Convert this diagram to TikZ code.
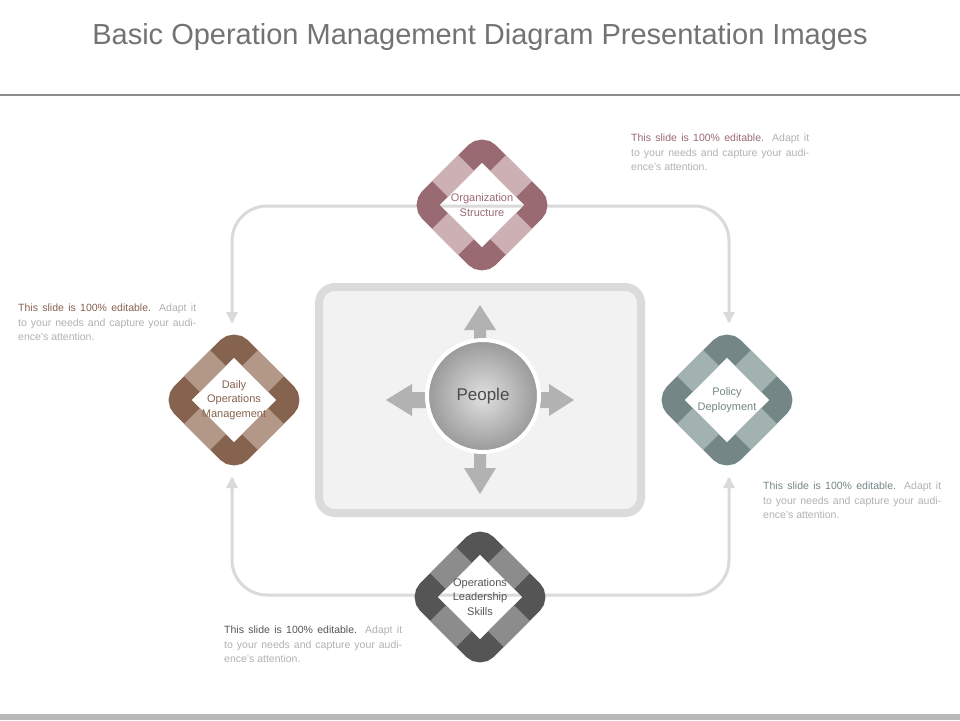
\documentclass[tikz,border=0pt]{standalone}
\usepackage{fontspec}
\setmainfont{Liberation Sans}
\usetikzlibrary{arrows.meta,calc}
\definecolor{tdark}{HTML}{9A6A72}\definecolor{tlight}{HTML}{CDB0B4}
\definecolor{ldark}{HTML}{86634F}\definecolor{llight}{HTML}{B39888}
\definecolor{rdark}{HTML}{748686}\definecolor{rlight}{HTML}{A2B2B1}
\definecolor{bdark}{HTML}{555555}\definecolor{blight}{HTML}{8C8C8C}
\definecolor{conn}{HTML}{DADADA}
\newcommand{\mydia}[6]{%
 \draw[#3,line width=22pt,rounded corners=9pt] (#1,#2-58)--(#1+58,#2)--(#1,#2+58)--(#1-58,#2)--cycle;
 \foreach \sx/\sy in {1/1,1/-1,-1/1,-1/-1}{
  \draw[#4,line width=22pt] (#1+\sx*16,#2+\sy*42)--(#1+\sx*42,#2+\sy*16);}
 \node[dtext,text=#3] (#6) at (#1,#2) {#5};}
\begin{document}
\begin{tikzpicture}[x=1pt,y=-1pt,
 dtext/.style={align=center,font=\fontsize{11}{14.5}\selectfont},
 para/.style={anchor=north west,text width=178pt,align=justify,inner sep=0pt,font=\fontsize{10.5}{14.5}\selectfont,text=gray!60},
 conline/.style={conn,line width=3pt,rounded corners=35pt},
 tip/.style={-{Triangle[width=10pt,length=9pt]}},
 barr/.style={fill=black!30,draw=none}]
\useasboundingbox (0,0) rectangle (960,720);
\fill[white] (0,0) rectangle (960,720);
\node[text=black!55,font=\fontsize{29}{32}\selectfont] (title) at (480,37) {Basic Operation Management Diagram Presentation Images};
\draw[black!45,line width=2.5pt] (0,95)--(960,95);
\fill[black!28] (0,714) rectangle (960,720);
% connectors
\coordinate (tl) at (232,322);\coordinate (tr) at (729,322);
\coordinate (bl) at (232,478);\coordinate (br) at (729,478);
\draw[conline] (482,206)--(232,206)--(tl);
\draw[conline] (482,206)--(729,206)--(tr);
\draw[conline] (480,595)--(232,595)--(bl);
\draw[conline] (480,595)--(729,595)--(br);
\fill[conn] (tl)++(-6,-10)--++(12,0)--(232,323)--cycle;
\fill[conn] (tr)++(-6,-10)--++(12,0)--(729,323)--cycle;
\fill[conn] (bl)++(-6,10)--++(12,0)--(232,477)--cycle;
\fill[conn] (br)++(-6,10)--++(12,0)--(729,477)--cycle;
% center box
\draw[draw=black!14,fill=black!5,line width=8pt,rounded corners=16pt] (319,287) rectangle (641,513);
\node (box) at (480,400) {};
% block arrows
\fill[barr] (474,340)--(474,330)--(464,330)--(480,305)--(496,330)--(486,330)--(486,340)--cycle;
\fill[barr] (474,450)--(474,468)--(464,468)--(480,494)--(496,468)--(486,468)--(486,450)--cycle;
\fill[barr] (430,392)--(412,392)--(412,384)--(386,400)--(412,416)--(412,408)--(430,408)--cycle;
\fill[barr] (535,392)--(549,392)--(549,384)--(574,400)--(549,416)--(549,408)--(535,408)--cycle;
\shade[inner color=black!12,outer color=black!40,draw=white,line width=4pt] (483,396) circle (56);
\node[text=black!70,font=\fontsize{17}{20}\selectfont] (people) at (483,396) {People};
% diamonds
\mydia{482}{205}{tdark}{tlight}{Organization\\Structure}{org}
\mydia{234}{400}{ldark}{llight}{Daily\\Operations\\Management}{daily}
\mydia{727}{400}{rdark}{rlight}{Policy\\Deployment}{policy}
\mydia{480}{597}{bdark}{blight}{Operations\\Leadership\\Skills}{ops}
% texts
\node[para] (p1) at (631,134) {\textcolor{tdark}{This slide is 100\% editable.} Adapt it to your needs and capture your audience's attention.};
\node[para] (p2) at (18,304) {\textcolor{ldark}{This slide is 100\% editable.} Adapt it to your needs and capture your audience's attention.};
\node[para] (p3) at (763,482) {\textcolor{rdark}{This slide is 100\% editable.} Adapt it to your needs and capture your audience's attention.};
\node[para] (p4) at (224,626) {\textcolor{bdark}{This slide is 100\% editable.} Adapt it to your needs and capture your audience's attention.};
\end{tikzpicture}
\end{document}
